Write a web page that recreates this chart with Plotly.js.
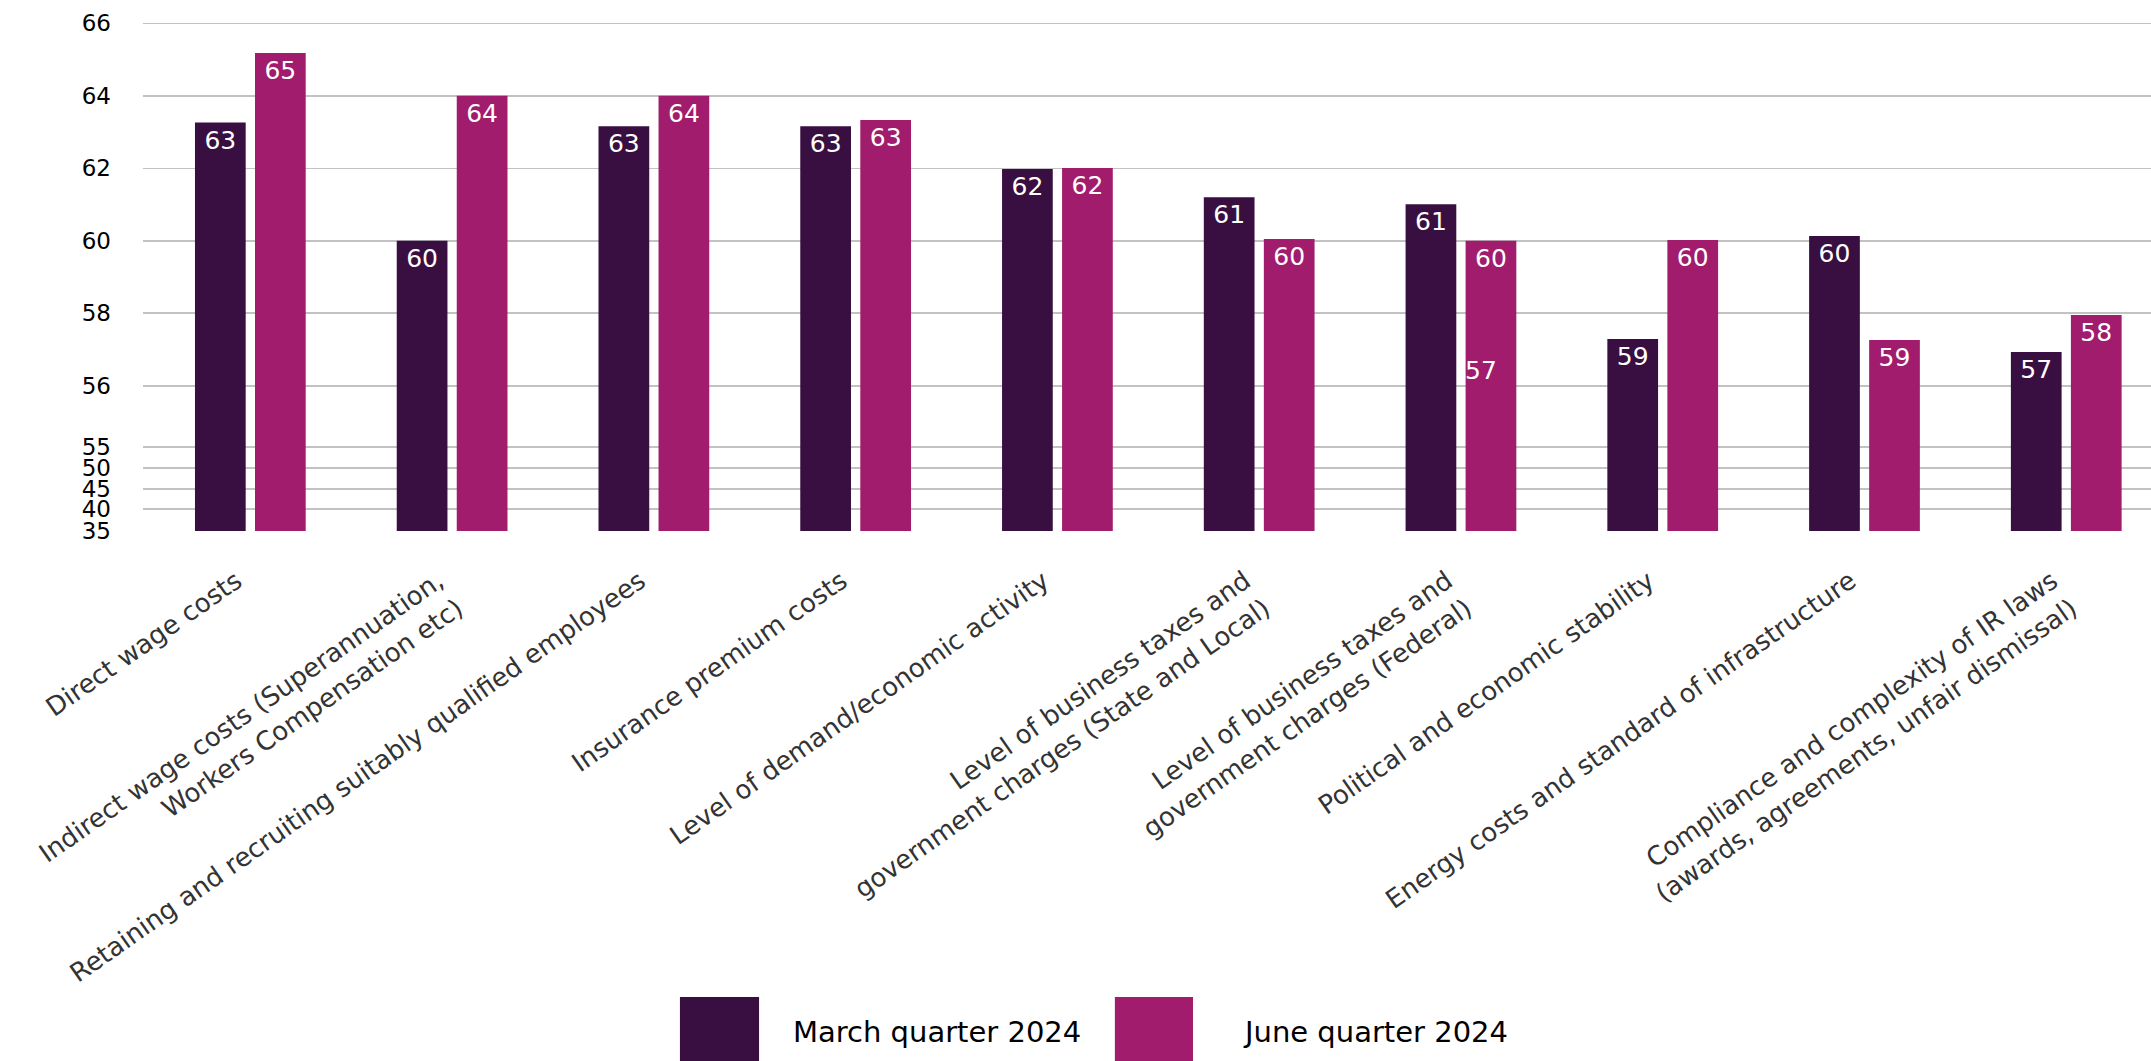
<!DOCTYPE html>
<html>
<head>
<meta charset="utf-8">
<script src="https://cdn.plot.ly/plotly-3.0.1.min.js"></script>
<style>
  html, body { margin: 0; padding: 0; background: #ffffff; }
  #chart { width: 2151px; height: 1061px; }
</style>
</head>
<body>
<div id="chart"></div>
<script>
// ---- data ----
const categories = [
  "Direct wage costs",
  "Indirect wage costs (Superannuation,<br>Workers Compensation etc)",
  "Retaining and recruiting suitably qualified employees",
  "Insurance premium costs",
  "Level of demand/economic activity",
  "Level of business taxes and<br>government charges (State and Local)",
  "Level of business taxes and<br>government charges (Federal)",
  "Political and economic stability",
  "Energy costs and standard of infrastructure",
  "Compliance and complexity of IR laws<br>(awards, agreements, unfair dismissal)"
];
const seriesNames = ["March quarter 2024", "June quarter 2024"];
const marchValues = [63.26, 60.0, 63.16, 63.16, 61.98, 61.2, 61.01, 57.29, 60.13, 56.93];
const juneValues  = [65.18, 64.0, 64.0, 63.33, 62.01, 60.05, 60.0, 60.02, 57.26, 57.95];
const marchLabels = ["63", "60", "63", "63", "62", "61", "61", "59", "60", "57"];
const juneLabels  = ["65", "64", "64", "63", "62", "60", "60", "60", "59", "58"];
// a stray label printed inside one June bar in the original
const extraLabelCategory = [categories[6]];
const extraLabelValue = [56.43];
const extraLabelText = ["57"];
// broken value axis: tick values and their labels
const yTickValues = [35, 40, 45, 50, 55, 56, 58, 60, 62, 64, 66];
const yTickLabels = ["35", "40", "45", "50", "55", "56", "58", "60", "62", "64", "66"];

// ---- axis scale (piecewise, as in the original broken axis) ----
const yTickPositions = [0, 21.7, 42.3, 63.3, 84, 145.3, 217.8, 290.3, 362.7, 435.3, 507.7];
function toAxis(v) {
  for (let i = 0; i < yTickValues.length - 1; i++) {
    const a = yTickValues[i], b = yTickValues[i + 1];
    if (v <= b || i === yTickValues.length - 2) {
      return yTickPositions[i] + (v - a) / (b - a) * (yTickPositions[i + 1] - yTickPositions[i]);
    }
  }
}

const colMarch = "#390F41";
const colJune = "#A11C6C";
const FONT = "DejaVu Sans";

const traces = [
  {
    type: "bar", name: seriesNames[0], x: categories, y: marchValues.map(toAxis),
    customdata: marchValues, text: marchLabels, textposition: "inside", insidetextanchor: "end",
    textangle: 0, constraintext: "none",
    textfont: { family: FONT, size: 25, color: "#ffffff" },
    marker: { color: colMarch }, showlegend: false, hoverinfo: "skip"
  },
  {
    type: "bar", name: seriesNames[1], x: categories, y: juneValues.map(toAxis),
    customdata: juneValues, text: juneLabels, textposition: "inside", insidetextanchor: "end",
    textangle: 0, constraintext: "none",
    textfont: { family: FONT, size: 25, color: "#ffffff" },
    marker: { color: colJune }, showlegend: false, hoverinfo: "skip"
  }
];

const annotations = extraLabelText.map((t, i) => ({
  x: extraLabelCategory[i], y: toAxis(extraLabelValue[i]), xref: "x", yref: "y",
  text: t, showarrow: false, xshift: 20,
  font: { family: FONT, size: 25, color: "#ffffff" }
}));

// legend drawn as swatches + text
const legendSwatchX = [[0.2674, 0.3068], [0.484, 0.5229]];
const legendTextX = [0.3227, 0.5468];
const shapes = [];
seriesNames.forEach((n, i) => {
  shapes.push({
    type: "rect", xref: "paper", yref: "paper",
    x0: legendSwatchX[i][0], x1: legendSwatchX[i][1], y0: -0.9098, y1: -1.06,
    fillcolor: i === 0 ? colMarch : colJune, line: { width: 0 }
  });
  annotations.push({
    xref: "paper", yref: "paper", x: legendTextX[i], y: -0.978,
    xanchor: "left", yanchor: "middle", showarrow: false, text: n,
    font: { family: FONT, size: 29, color: "#000000" }
  });
});

const layout = {
  width: 2151, height: 1061,
  margin: { l: 143, r: 0, t: 21, b: 529 },
  paper_bgcolor: "#ffffff", plot_bgcolor: "#ffffff",
  barmode: "group", bargap: 0.405, bargroupgap: 0.155,
  showlegend: false,
  xaxis: {
    type: "category", range: [-0.532, 9.42], tickangle: -35,
    tickfont: { family: FONT, size: 26, color: "#333333" },
    ticks: "", showgrid: false, zeroline: false, showline: false,
    ticklabelstandoff: 28, ticklabelshift: -14, automargin: false
  },
  yaxis: {
    range: [-1, 510], tickmode: "array",
    tickvals: yTickValues.map(toAxis), ticktext: yTickLabels,
    tickfont: { family: FONT, size: 23, color: "#000000" },
    showgrid: true, gridcolor: "#c2c2c2", gridwidth: 1.6,
    zeroline: false, showline: false, ticks: "", ticklabelstandoff: 31,
    automargin: false
  },
  shapes: shapes,
  annotations: annotations
};

Plotly.newPlot("chart", traces, layout, { displayModeBar: false, staticPlot: true });
</script>
</body>
</html>
